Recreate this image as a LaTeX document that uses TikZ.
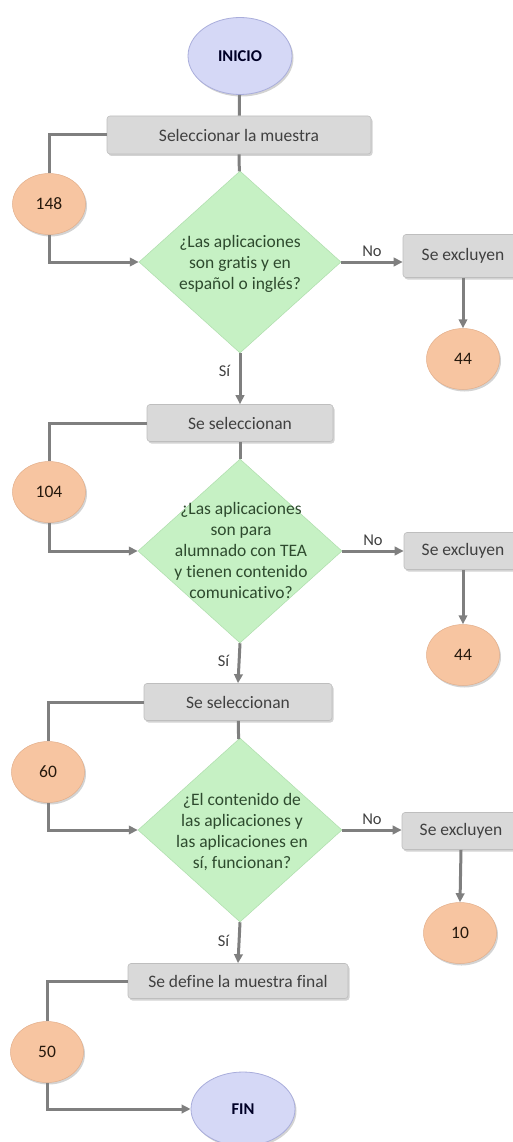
\documentclass[tikz,border=0pt]{standalone}
\usepackage{fontspec}
\setmainfont{Carlito}[Ligatures=NoCommon]
\usetikzlibrary{shapes.geometric,shadows,arrows.meta}
\definecolor{ellfill}{HTML}{D5D8F6}
\definecolor{elldraw}{HTML}{A9ADDB}
\definecolor{boxfill}{HTML}{D9D9D9}
\definecolor{boxdraw}{HTML}{BEBEBE}
\definecolor{dfill}{HTML}{C6F1C4}
\definecolor{ddraw}{HTML}{AEDDAC}
\definecolor{cfill}{HTML}{F7C5A1}
\definecolor{cdraw}{HTML}{E2AE8A}
\definecolor{conn}{HTML}{7F7F7F}
\definecolor{txt}{HTML}{404040}
\definecolor{dtxt}{HTML}{2E4A2E}
\tikzset{
  myshadow/.style={drop shadow={opacity=0.35,shadow xshift=1.5pt,shadow yshift=-2pt}},
  terminal/.style={ellipse,fill=ellfill,draw=elldraw,line width=0.8pt,minimum width=104pt,minimum height=77pt,inner sep=0pt,font=\fontsize{16.5}{19}\selectfont\bfseries,text=black!85!blue,myshadow},
  procbox/.style={rectangle,rounded corners=3pt,fill=boxfill,draw=boxdraw,line width=0.6pt,minimum height=38pt,inner sep=0pt,font=\fontsize{17.5}{21}\selectfont,text=txt,myshadow},
  decision/.style={diamond,fill=dfill,draw=ddraw,line width=0.5pt,inner sep=0pt,minimum width=202pt,minimum height=182pt},
  dtext/.style={align=center,inner sep=0pt,font=\fontsize{17.5}{21}\selectfont,text=dtxt},
  count/.style={ellipse,fill=cfill,draw=cdraw,line width=0.5pt,minimum width=73pt,minimum height=61pt,inner sep=0pt,font=\fontsize{17.5}{21}\selectfont,text=black!80!brown,myshadow},
  link/.style={draw=conn,line width=3pt},
  arr/.style={link,-{Triangle[length=9pt,width=8.5pt]}},
  lbl/.style={font=\fontsize{16.5}{20}\selectfont,text=txt}
}
\begin{document}
\begin{tikzpicture}[x=1pt,y=-1pt]
\useasboundingbox (0,0) rectangle (512,1142);
% nodes
\node[terminal] (ini) at (240,56) {INICIO};
\node[procbox,minimum width=264pt] (b1) at (239,135) {Seleccionar la muestra};
\node[count] (c1) at (49,204) {148};
\node[decision] (d1) at (240,262) {};
\node[dtext] (t1) at (240,264) {¿Las aplicaciones\\son gratis y en\\español o inglés?};
\node[procbox,minimum width=120pt,minimum height=43pt] (e1) at (463,256) {Se excluyen};
\node[count] (x1) at (463,359) {44};

\node[procbox,minimum width=186pt,minimum height=37pt] (b2) at (240,423) {Se seleccionan};
\node[count] (c2) at (49,492) {104};
\node[decision,minimum width=204pt,minimum height=184pt] (d2) at (240,551) {};
\node[dtext] (t2) at (241,550) {¿Las aplicaciones\\son para\\alumnado con TEA\\y tienen contenido\\comunicativo?};
\node[procbox,minimum width=118pt,minimum height=37pt] (e2) at (463,551) {Se excluyen};
\node[count] (x2) at (463,655) {44};

\node[procbox,minimum width=188pt,minimum height=37pt] (b3) at (238,702) {Se seleccionan};
\node[count] (c3) at (48,772) {60};
\node[decision,minimum width=204pt,minimum height=184pt] (d3) at (240,830) {};
\node[dtext] (t3) at (242,832) {¿El contenido de\\las aplicaciones y\\las aplicaciones en\\sí, funcionan?};
\node[procbox,minimum width=118pt,minimum height=37pt] (e3) at (461,831) {Se excluyen};
\node[count] (x3) at (460,933) {10};

\node[procbox,minimum width=220pt,minimum height=35pt] (b4) at (238,981) {Se define la muestra final};
\node[count] (c4) at (47,1052) {50};
\node[terminal,minimum height=74pt] (fin) at (243,1109) {FIN};

% connectors
\draw[link] (ini) -- (b1);
\draw[link] (b1) -- (d1);
\draw[link] (b1.west) -| (c1.north);
\draw[arr] (c1.south) |- (d1.west);
\draw[arr] (d1.east) -- node[lbl,above=1pt] {No} (e1.west |- d1.east);
\draw[arr] (e1.south) -- (x1.north);
\draw[arr] (d1.south) -- node[lbl,left=5pt,pos=0.35] {Sí} (b2.north);

\draw[link] (b2) -- (d2);
\draw[link] (b2.west) -| (c2.north);
\draw[arr] (c2.south) |- (d2.west);
\draw[arr] (d2.east) -- node[lbl,above=1pt] {No} (e2.west);
\draw[arr] (e2.south) -- (x2.north);
\draw[arr] (d2.south) -- node[lbl,left=5pt,pos=0.45] {Sí} (b3.north);

\draw[link] (b3) -- (d3);
\draw[link] (b3.west) -| (c3.north);
\draw[arr] (c3.south) |- (d3.west);
\draw[arr] (d3.east) -- node[lbl,above=1pt] {No} (e3.west |- d3.east);
\draw[arr] (e3.south) -- (x3.north);
\draw[arr] (d3.south) -- node[lbl,left=5pt,pos=0.45] {Sí} (b4.north);

\draw[link] (b4.west) -| (c4.north);
\draw[arr] (c4.south) |- (fin.west);
\end{tikzpicture}
\end{document}
